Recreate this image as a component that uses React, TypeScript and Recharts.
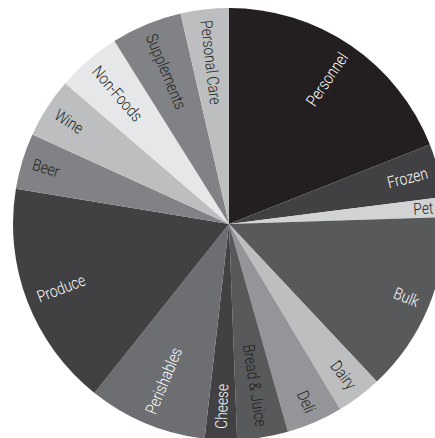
import React from 'react';
import { PieChart, Pie, Cell } from 'recharts';

const categories = [
  'Personnel', 'Frozen', 'Pet', 'Bulk', 'Dairy', 'Deli', 'Bread & Juice', 'Cheese',
  'Perishables', 'Produce', 'Beer', 'Wine', 'Non-Foods', 'Supplements', 'Personal Care',
];
const values = [19.0, 4.0, 1.5, 13.5, 3.4, 4.2, 3.8, 2.4, 8.9, 16.9, 4.2, 4.5, 4.8, 5.3, 3.6];
const sliceColors = [
  '#231f20', '#414042', '#d1d3d4', '#58595b', '#bcbec0', '#939598', '#58595b', '#414042',
  '#6d6e71', '#414042', '#808285', '#bcbec0', '#e6e7e8', '#808285', '#bcbec0',
];
const labelColors = [
  '#ffffff', '#ffffff', '#231f20', '#ffffff', '#231f20', '#231f20', '#231f20', '#ffffff',
  '#ffffff', '#ffffff', '#231f20', '#231f20', '#231f20', '#231f20', '#231f20',
];

const data = categories.map((name, i) => ({ name, value: values[i] }));
const RAD = Math.PI / 180;

const renderLabel = (props: any) => {
  const { cx, cy, midAngle, outerRadius, index } = props;
  const r = outerRadius - 11;
  let a = ((midAngle % 360) + 360) % 360;
  if (a > 180) a -= 360;
  const x = cx + r * Math.cos(-a * RAD);
  const y = cy + r * Math.sin(-a * RAD);
  const right = a > -90 && a < 90;
  const rot = right ? -a : 180 - a;
  return (
    <text
      x={0}
      y={0}
      transform={`translate(${x}, ${y}) rotate(${rot}) scale(0.84, 1)`}
      textAnchor={right ? 'end' : 'start'}
      dominantBaseline="central"
      fill={labelColors[index]}
      fontSize={16.5}
      fontWeight={300}
      fontFamily="Roboto, 'DejaVu Sans Condensed', sans-serif"
    >
      {categories[index]}
    </text>
  );
};

export default function App() {
  return (
    <div style={{ position: 'absolute', left: 0, top: 0, width: 435, height: 438, background: '#fff' }}>
      <PieChart width={435} height={438} margin={{ top: 0, right: 0, bottom: 0, left: 0 }}>
        <Pie
          data={data}
          dataKey="value"
          nameKey="name"
          cx={229}
          cy={224}
          outerRadius={216}
          startAngle={90}
          endAngle={-270}
          stroke="none"
          labelLine={false}
          label={renderLabel}
          isAnimationActive={false}
        >
          {data.map((d, i) => (
            <Cell key={d.name} fill={sliceColors[i]} />
          ))}
        </Pie>
      </PieChart>
    </div>
  );
}
